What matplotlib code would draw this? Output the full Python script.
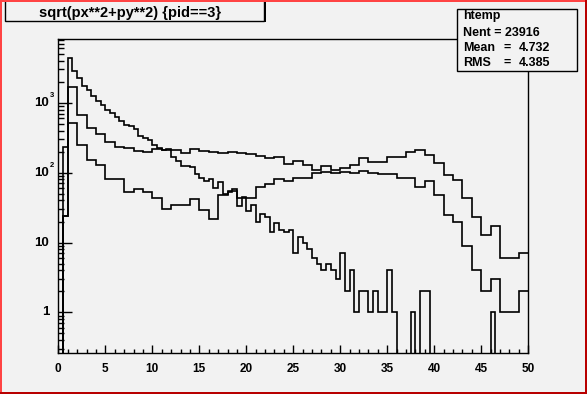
import numpy as np
import matplotlib
matplotlib.use("Agg")
import matplotlib.pyplot as plt
from matplotlib.patches import Rectangle
from matplotlib.ticker import LogLocator, MultipleLocator, NullFormatter

# three histograms of sqrt(px**2+py**2), counts
# fine one: 0.5 wide bins from 0 to 50
fine_edges = np.arange(0, 50.5, 0.5)
fine_counts = [0, 24, 4330, 2825, 2265, 1722, 1510, 1240, 1050, 915,
               801, 722, 632, 549, 486, 461, 427, 340, 316, 289,
               245, 223, 209, 216, 169, 147, 125, 125, 119, 95,
               83, 77, 81, 60, 73, 49, 53, 58, 33, 45,
               28, 34, 20, 26, 23, 14, 19, 15, 14, 15,
               7, 12, 10, 8, 6, 5, 4, 5, 4, 3,
               7, 2, 4, 1, 2, 2, 1, 2, 1, 1,
               4, 1, 0, 0, 0, 1, 0, 2, 2, 0,
               0, 0, 0, 0, 0, 0, 0, 0, 0, 0,
               0, 0, 1, 0, 0, 0, 0, 0, 0, 0]

# the other two: one half bin [0.5, 1] then 1 wide bins up to 50
coarse_edges = np.concatenate([[0, 0.5], np.arange(1, 51)])
upper_counts = [0, 230,
                1667, 669, 432, 358, 278, 231, 223, 204, 200,
                216, 211, 211, 190, 216, 204, 195, 190, 200, 194,
                186, 176, 161, 169, 132, 149, 129, 109, 126, 109,
                118, 129, 164, 141, 141, 169, 169, 200, 211, 179,
                136, 92, 78, 43, 23, 13, 17, 6, 6, 7]
lower_counts = [0, 24,
                509, 249, 152, 129, 81, 81, 53, 58, 53,
                43, 30, 35, 35, 42, 29, 22, 48, 55, 43,
                43, 62, 69, 80, 76, 83, 83, 98, 101, 98,
                101, 98, 107, 98, 95, 95, 83, 83, 62, 77,
                48, 25, 20, 9, 4, 2, 3, 1, 1, 2]

title = "sqrt(px**2+py**2) {pid==3}"
stats_name = "htemp"
stats_rows = [("Nent = 23916", None), ("Mean", "4.732"), ("RMS", "4.385")]

bg = "#f2f2f2"
W, H = 587, 394
plt.rcParams["font.family"] = ["Liberation Sans", "DejaVu Sans"]
plt.rcParams["font.weight"] = "bold"


def fx(x):
    return x / W


def fy(y):
    return 1 - y / H


def box(x0, y0, x1, y1, **kw):
    return Rectangle((fx(x0), fy(y1)), fx(x1) - fx(x0), fy(y0) - fy(y1),
                     transform=fig.transFigure, **kw)


fig = plt.figure(figsize=(W / 100, H / 100), dpi=100, facecolor=bg)
ax = fig.add_axes([fx(58.3), fy(353.3), fx(528.3) - fx(58.3), fy(39.3) - fy(353.3)])
ax.set_facecolor(bg)

for edges, counts in [(fine_edges, fine_counts),
                      (coarse_edges, upper_counts),
                      (coarse_edges, lower_counts)]:
    c = np.array(counts, dtype=float)
    c = np.where(c > 0, c, 1e-2)  # empty bins drop below the frame
    ax.stairs(c, edges, baseline=None, color="black", lw=1.2)

ax.set_yscale("log")
ax.set_xlim(0, 50)
ax.set_ylim(0.26, 8100)

for s in ax.spines.values():
    s.set_linewidth(1.0)

ax.xaxis.set_major_locator(MultipleLocator(5))
ax.xaxis.set_minor_locator(MultipleLocator(1))
ax.tick_params(axis="x", which="major", direction="in", length=5.8, width=1,
               labelsize=8.5, pad=7)
ax.tick_params(axis="x", which="minor", direction="in", length=2.9, width=1)

ax.yaxis.set_major_locator(LogLocator(base=10, numticks=10))
ax.yaxis.set_minor_locator(LogLocator(base=10, subs=np.arange(2, 10), numticks=20))
ax.yaxis.set_minor_formatter(NullFormatter())
ax.set_yticks([1, 10, 100, 1000])
ax.set_yticklabels([])
ax.tick_params(axis="y", which="major", direction="in", length=10, width=1)
ax.tick_params(axis="y", which="minor", direction="in", length=4, width=1)
for lab in ax.get_xticklabels():
    lab.set_fontweight("bold")

# ROOT style y labels: 10 with a small raised exponent
for val, base, sup in [(1, "1", None), (10, "10", None), (100, "10", "2"), (1000, "10", "3")]:
    ax.annotate(base, xy=(0, val), xycoords=("axes fraction", "data"),
                xytext=(-6.5, 0), textcoords="offset points",
                ha="right", va="center", fontsize=9.5, fontweight="bold")
    if sup:
        ax.annotate(sup, xy=(0, val), xycoords=("axes fraction", "data"),
                    xytext=(-6.2, 5), textcoords="offset points",
                    ha="left", va="center", fontsize=5.5, fontweight="bold")

# title box
fig.add_artist(box(6.5, 1.5, 265.5, 22, facecolor="black", edgecolor="none", zorder=5))
fig.add_artist(box(5, -3, 264, 20.5, facecolor=bg, edgecolor="black", lw=1, zorder=6))
fig.text(fx(130), fy(12.5), title, ha="center", va="center",
         fontsize=10.5, fontweight="bold", zorder=7)

# stats box
fig.add_artist(box(458.2, 10.8, 578, 72, facecolor="black", edgecolor="none", zorder=5))
fig.add_artist(box(456.7, 9.3, 576.5, 70.5, facecolor=bg, edgecolor="black", lw=1, zorder=6))
fig.text(fx(462.7), fy(16), stats_name, ha="left", va="center",
         fontsize=9, fontweight="bold", zorder=7)
for i, (name, value) in enumerate(stats_rows):
    y = 32.5 + 15.3 * i
    fig.text(fx(462.7), fy(y), name, ha="left", va="center",
             fontsize=9, fontweight="bold", zorder=7)
    if value is not None:
        fig.text(fx(507.5), fy(y), "=", ha="center", va="center",
                 fontsize=9, fontweight="bold", zorder=7)
        fig.text(fx(550), fy(y), value, ha="right", va="center",
                 fontsize=9, fontweight="bold", zorder=7)

# window border
fig.add_artist(box(0, 0, 2, H, facecolor="#ff4444", edgecolor="none", zorder=10))
fig.add_artist(box(0, 0, W, 2, facecolor="#ff4444", edgecolor="none", zorder=10))
fig.add_artist(box(W - 2, 0, W, H, facecolor="#b80000", edgecolor="none", zorder=10))
fig.add_artist(box(0, H - 2.5, W, H, facecolor="#b80000", edgecolor="none", zorder=10))

fig.savefig("out.png", dpi=100, facecolor=bg)
